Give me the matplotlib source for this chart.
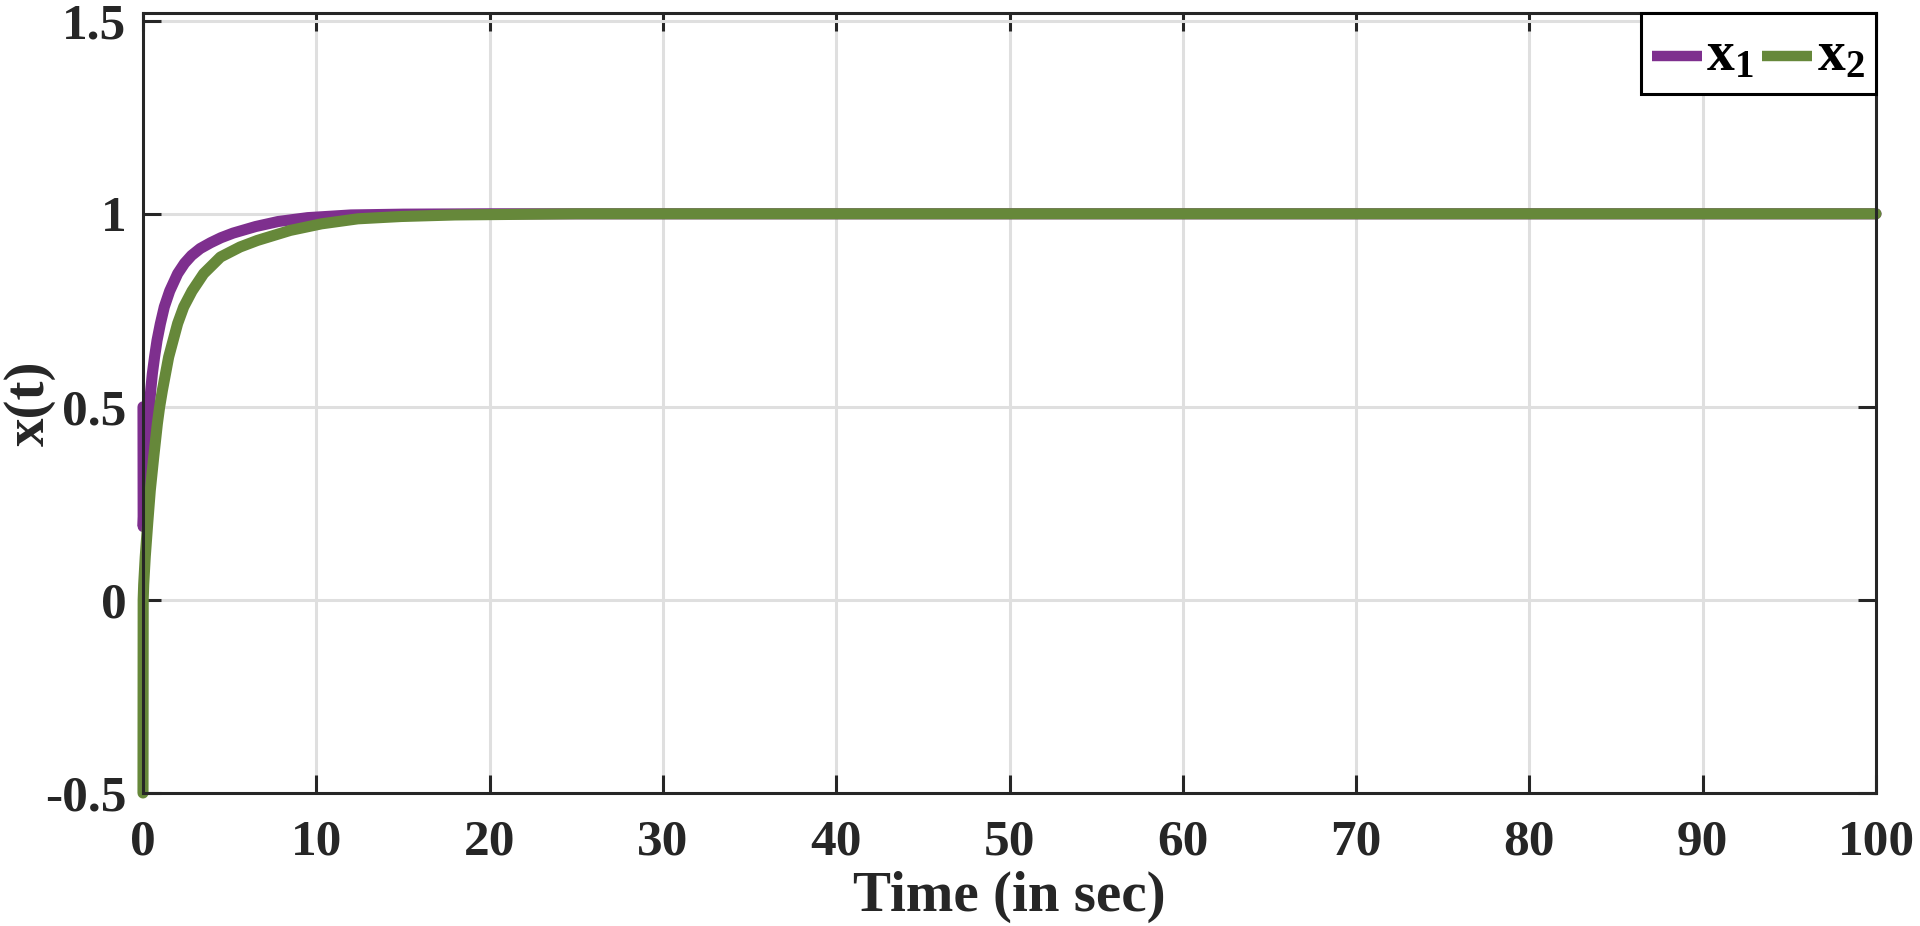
import matplotlib
matplotlib.use("Agg")
import matplotlib.pyplot as plt
import numpy as np

# ---- data ----
t_x1 = [0.0, 0.01, 0.08, 0.15, 0.23, 0.31, 0.37, 0.45, 0.54, 0.67, 0.81, 1.0, 1.23, 1.54,
        2.0, 2.4, 2.8, 3.3, 3.9, 4.5, 5.2, 6.5, 7.8, 9.5, 12.0, 15.0, 20.0, 30.0, 100.0]
x1 = [0.5, 0.19, 0.27, 0.32, 0.39, 0.455, 0.5, 0.545, 0.586, 0.63, 0.672, 0.715, 0.759, 0.80,
      0.845, 0.872, 0.892, 0.91, 0.925, 0.938, 0.95, 0.967, 0.98, 0.99, 0.997, 0.999, 1.0, 1.0, 1.0]

t_x2 = [0.0, 0.01, 0.04, 0.13, 0.27, 0.42, 0.62, 0.83, 0.96, 1.12, 1.48, 2.0, 2.35, 2.83,
        3.5, 4.47, 5.6, 6.6, 8.5, 10.3, 12.4, 14.9, 18.0, 25.0, 100.0]
x2 = [-0.5, 0.0, 0.04, 0.112, 0.198, 0.284, 0.371, 0.457, 0.5, 0.543, 0.629, 0.716, 0.759, 0.80,
      0.845, 0.888, 0.914, 0.931, 0.957, 0.974, 0.987, 0.993, 0.997, 1.0, 1.0]

labels = [r"$\mathrm{x_1}$", r"$\mathrm{x_2}$"]
xticks = [0, 10, 20, 30, 40, 50, 60, 70, 80, 90, 100]
yticks = [-0.5, 0, 0.5, 1, 1.5]
ytick_labels = ["-0.5", "0", "0.5", "1", "1.5"]

# ---- style ----
plt.rcParams["font.family"] = ["Liberation Serif", "DejaVu Serif"]
plt.rcParams["font.weight"] = "bold"
plt.rcParams["mathtext.fontset"] = "custom"
plt.rcParams["mathtext.rm"] = "Liberation Serif:bold"
plt.rcParams["mathtext.it"] = "Liberation Serif:bold"
plt.rcParams["mathtext.bf"] = "Liberation Serif:bold"

dark = "#262626"
c1 = "#7E2F8E"
c2 = "#66883A"

fig = plt.figure(figsize=(19.2, 9.26), dpi=100)
ax = fig.add_axes([143 / 1920, 1 - 793 / 926, (1876 - 143) / 1920, (793 - 13) / 926])

ax.plot(t_x1, x1, color=c1, lw=8, solid_capstyle="round", solid_joinstyle="round",
        label=labels[0], zorder=3, clip_on=False)
ax.plot(t_x2, x2, color=c2, lw=8, solid_capstyle="round", solid_joinstyle="round",
        label=labels[1], zorder=4, clip_on=False)

ax.set_xlim(0, 100)
ax.set_ylim(-0.5, 1.52)
ax.set_xticks(xticks)
ax.set_yticks(yticks)
ax.set_yticklabels(ytick_labels)

ax.grid(True, color="#DFDFDF", lw=2.2)
ax.set_axisbelow(True)
for s in ax.spines.values():
    s.set_color(dark)
    s.set_linewidth(2.2)
    s.set_zorder(5)

ax.tick_params(axis="both", direction="in", length=13, width=2.2, colors=dark,
               labelsize=37, top=True, right=True)
ax.tick_params(axis="x", pad=19)
ax.tick_params(axis="y", pad=12)
for lab in ax.get_xticklabels() + ax.get_yticklabels():
    lab.set_fontweight("bold")

ax.set_xlabel("Time (in sec)", fontsize=41, fontweight="bold", color=dark)
ax.xaxis.label.set_va("center")
ax.xaxis.set_label_coords(0.5, -(897 - 793) / 780)
ax.set_ylabel("x(t)", fontsize=41, fontweight="bold", color=dark)
ax.yaxis.label.set_va("center")
ax.yaxis.set_label_coords((30 - 143) / 1733, 0.5)

leg = ax.legend(loc="upper right", bbox_to_anchor=(1.0, 1.0), borderaxespad=0.0,
                ncol=2, fontsize=40, handlelength=0.9, handleheight=1.15, handletextpad=0.08,
                columnspacing=0.15, borderpad=0.2, fancybox=False, frameon=True)
leg.set_zorder(6)
frame = leg.get_frame()
frame.set_edgecolor("black")
frame.set_linewidth(2.2)
frame.set_alpha(1)
for line in leg.get_lines():
    line.set_linewidth(7.5)
    line.set_solid_capstyle("butt")
    yd = np.asarray(line.get_ydata(), dtype=float)
    line.set_ydata(yd - 6.5)

fig.savefig("out.png", dpi=100, facecolor="white")
